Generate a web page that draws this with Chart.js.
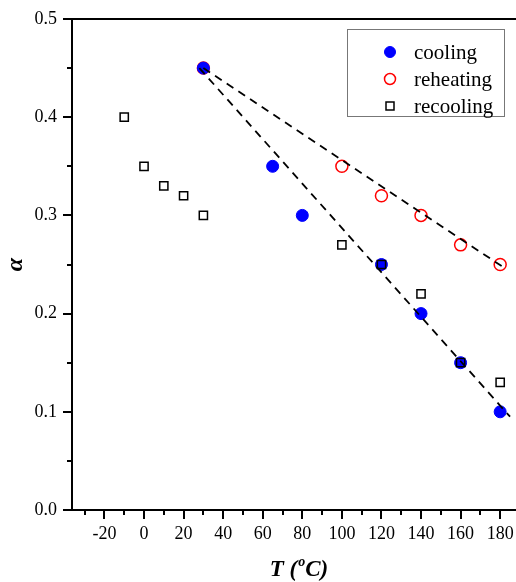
<!DOCTYPE html>
<html>
<head>
<meta charset="utf-8">
<script src="https://cdn.jsdelivr.net/npm/chart.js@4"></script>
<style>
  body { margin: 0; background: #fff; }
  #wrap { width: 516px; height: 582px; }
</style>
</head>
<body>
<div id="wrap"><canvas id="alphaChart" width="516" height="582"></canvas></div>
<script>
// values
const coolingT = [30, 65, 80, 120, 140, 160, 180];
const coolingA = [0.45, 0.35, 0.30, 0.25, 0.20, 0.15, 0.10];

const reheatingT = [30, 100, 120, 140, 160, 180];
const reheatingA = [0.45, 0.35, 0.32, 0.30, 0.27, 0.25];

const recoolingT = [-10, 0, 10, 20, 30, 100, 120, 140, 160, 180];
const recoolingA = [0.40, 0.35, 0.33, 0.32, 0.30, 0.27, 0.25, 0.22, 0.15, 0.13];

// dashed guide lines (end points)
const upperFitT = [30, 182.5];
const upperFitA = [0.45, 0.246];
const lowerFitT = [28, 185];
const lowerFitA = [0.45, 0.095];

const xTicks = [-20, 0, 20, 40, 60, 80, 100, 120, 140, 160, 180];
const yTicks = [0.0, 0.1, 0.2, 0.3, 0.4, 0.5];

const serif = "'Liberation Serif', 'DejaVu Serif', serif";

function toPoints(xs, ys) {
  return xs.map((x, i) => ({ x: x, y: ys[i] }));
}

// minor/major tick marks, top frame line, axis titles
const framePlugin = {
  id: "frame",
  afterDraw(chart) {
    const c = chart.ctx;
    const area = chart.chartArea;
    const xs = chart.scales.x;
    const ys = chart.scales.y;

    c.save();
    c.strokeStyle = "#000";
    c.lineWidth = 2;

    // top line
    c.beginPath();
    c.moveTo(area.left - 1, area.top);
    c.lineTo(area.right, area.top);
    c.stroke();

    c.beginPath();
    for (let v = -30; v <= 190; v += 10) {
      const px = Math.round(xs.getPixelForValue(v));
      if (px < area.left || px > area.right) continue;
      const len = xTicks.includes(v) ? 9 : 5;
      c.moveTo(px, area.bottom);
      c.lineTo(px, area.bottom + len);
    }
    for (let k = 0; k <= 10; k++) {
      const v = k * 0.05;
      const py = Math.round(ys.getPixelForValue(v));
      const len = k % 2 === 0 ? 9 : 5;
      c.moveTo(area.left, py);
      c.lineTo(area.left - len, py);
    }
    c.stroke();

    // x title: T (°C) with superscript o
    c.fillStyle = "#000";
    c.textBaseline = "alphabetic";
    c.textAlign = "left";
    const big = "italic bold 23px " + serif;
    const small = "italic bold 14px " + serif;
    c.font = big;
    const w1 = c.measureText("T (").width;
    const w3 = c.measureText("C)").width;
    c.font = small;
    const w2 = c.measureText("o").width + 1;
    let tx = 299 - (w1 + w2 + w3) / 2;
    const ty = 576;
    c.font = big;
    c.fillText("T (", tx, ty);
    tx += w1;
    c.font = small;
    c.fillText("o", tx + 1, ty - 10);
    tx += w2;
    c.font = big;
    c.fillText("C)", tx, ty);

    // y title: alpha
    c.translate(22, (area.top + area.bottom) / 2);
    c.rotate(-Math.PI / 2);
    c.textAlign = "center";
    c.font = "italic bold 24px " + serif;
    c.fillText("α", 0, 0);
    c.restore();
  }
};

// legend box in the upper right
const legendPlugin = {
  id: "boxLegend",
  afterDraw(chart) {
    const c = chart.ctx;
    const boxL = 347, boxT = 29, boxR = 504, boxB = 116;
    c.save();
    c.strokeStyle = "#777";
    c.lineWidth = 1;
    c.strokeRect(boxL + 0.5, boxT + 0.5, boxR - boxL, boxB - boxT);

    const items = chart.data.datasets.filter(d => d.label);
    items.forEach((d, i) => {
      const y = 52 + i * 27;
      const x = 390;
      c.beginPath();
      c.lineWidth = d.borderWidth;
      c.strokeStyle = d.borderColor;
      c.fillStyle = d.backgroundColor;
      if (d.pointStyle === "rect") {
        c.rect(x - 4, y - 4, 8, 8);
      } else {
        c.arc(x, y, 5.5, 0, Math.PI * 2);
      }
      if (d.backgroundColor !== "transparent") c.fill();
      c.stroke();

      c.fillStyle = "#000";
      c.font = "21px " + serif;
      c.textBaseline = "middle";
      c.textAlign = "left";
      c.fillText(d.label, 414, y + 1);
    });
    c.restore();
  }
};

const ctx = document.getElementById("alphaChart");

const alphaChart = new Chart(ctx, {
  type: "scatter",
  data: {
    datasets: [
      {
        label: "cooling",
        data: toPoints(coolingT, coolingA),
        pointStyle: "circle",
        pointRadius: 6,
        backgroundColor: "#0000ff",
        borderColor: "#0000ff",
        borderWidth: 1,
        order: 3
      },
      {
        label: "reheating",
        data: toPoints(reheatingT, reheatingA),
        pointStyle: "circle",
        pointRadius: 6,
        backgroundColor: "transparent",
        borderColor: "#ff0000",
        borderWidth: 1.5,
        order: 4
      },
      {
        label: "recooling",
        data: toPoints(recoolingT, recoolingA),
        pointStyle: "rect",
        pointRadius: 5.8,
        backgroundColor: "transparent",
        borderColor: "#000000",
        borderWidth: 1.5,
        order: 1
      },
      {
        data: toPoints(upperFitT, upperFitA),
        showLine: true,
        pointRadius: 0,
        borderColor: "#000",
        borderWidth: 1.8,
        borderDash: [8, 6],
        order: 2
      },
      {
        data: toPoints(lowerFitT, lowerFitA),
        showLine: true,
        pointRadius: 0,
        borderColor: "#000",
        borderWidth: 1.8,
        borderDash: [8, 6],
        order: 2
      }
    ]
  },
  options: {
    responsive: false,
    animation: false,
    events: [],
    layout: { autoPadding: false, padding: { top: 19, right: 0, left: 0, bottom: 0 } },
    plugins: {
      legend: { display: false },
      tooltip: { enabled: false }
    },
    scales: {
      x: {
        type: "linear",
        min: -36.4,
        max: 188,
        afterFit(scale) {
          scale.height = 72;
          scale.paddingLeft = 0;
          scale.paddingRight = 0;
        },
        border: { display: true, color: "#000", width: 2 },
        grid: { display: false, drawTicks: false },
        ticks: {
          stepSize: 20,
          includeBounds: false,
          autoSkip: false,
          maxRotation: 0,
          padding: 13,
          color: "#000",
          font: { family: serif, size: 18 },
          callback: v => (xTicks.includes(v) ? String(v) : "")
        }
      },
      y: {
        type: "linear",
        min: 0,
        max: 0.5,
        afterFit(scale) {
          scale.width = 72;
          scale.paddingTop = 0;
          scale.paddingBottom = 0;
        },
        border: { display: true, color: "#000", width: 2 },
        grid: { display: false, drawTicks: false },
        ticks: {
          stepSize: 0.1,
          autoSkip: false,
          padding: 15,
          color: "#000",
          font: { family: serif, size: 18 },
          callback: v => v.toFixed(1)
        }
      }
    }
  },
  plugins: [framePlugin, legendPlugin]
});
</script>
</body>
</html>
